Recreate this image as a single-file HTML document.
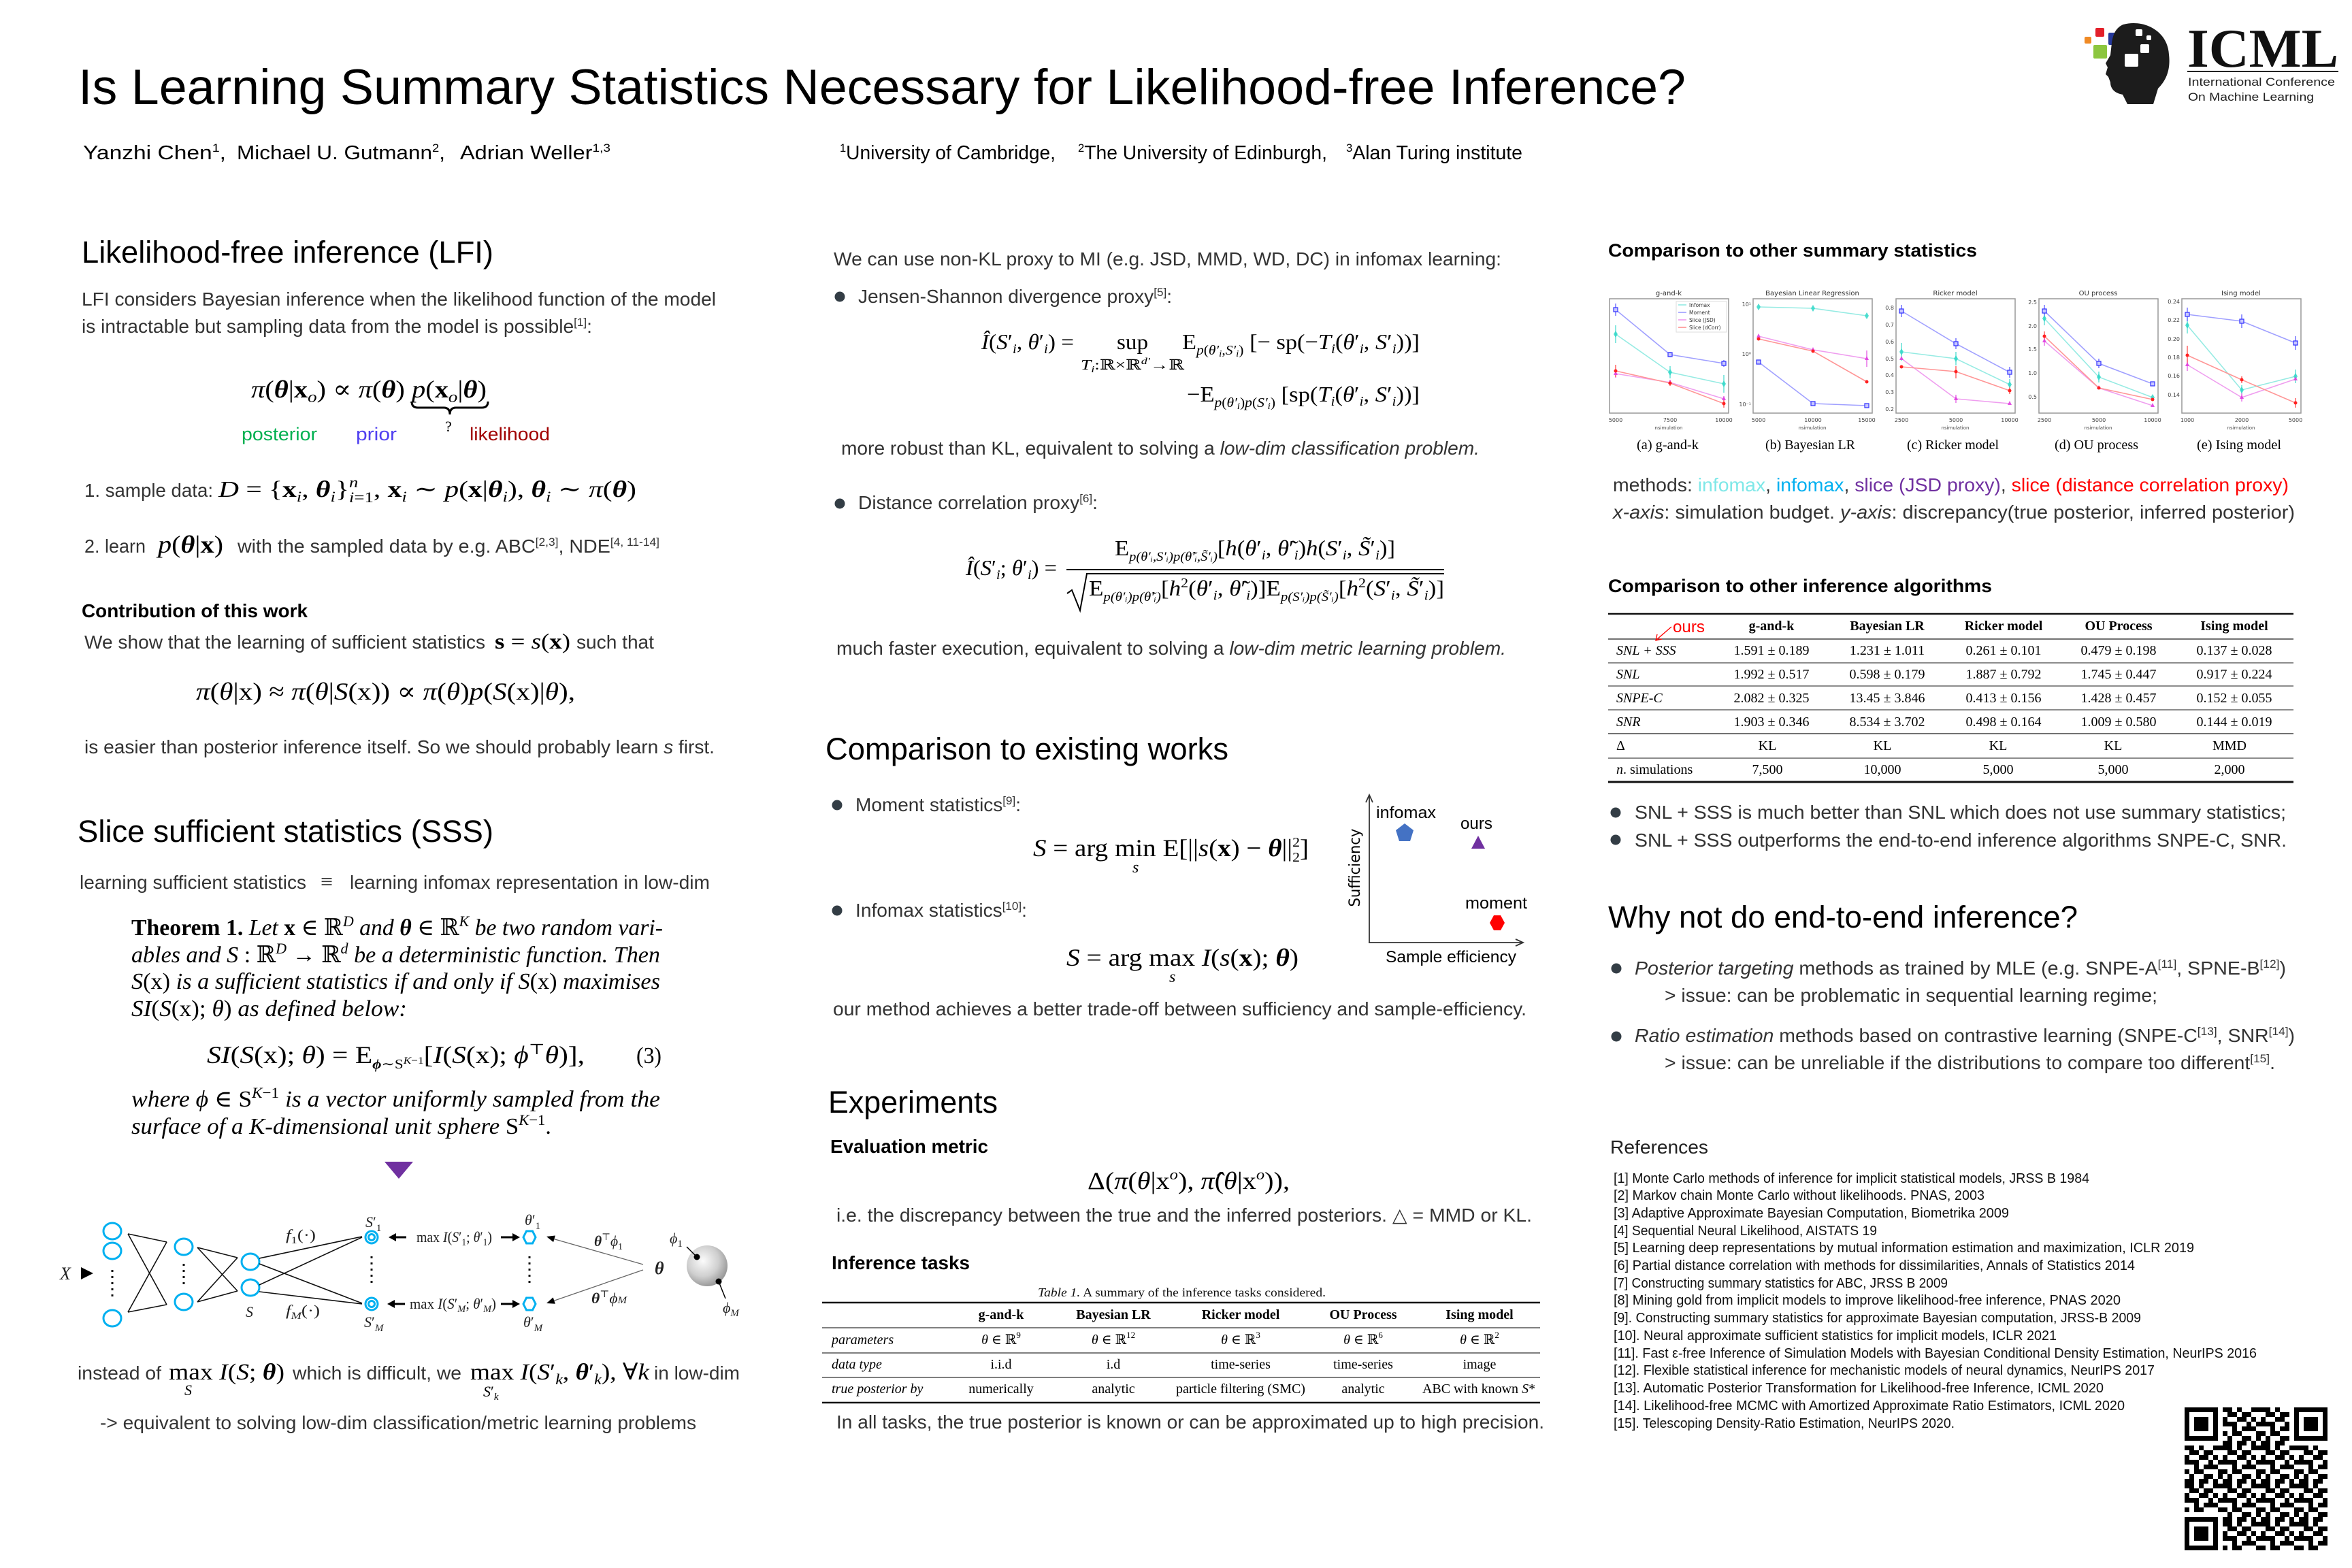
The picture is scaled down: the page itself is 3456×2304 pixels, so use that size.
<!DOCTYPE html>
<html><head><meta charset="utf-8"><title>Is Learning Summary Statistics Necessary for Likelihood-free Inference?</title>
<style>
html,body{margin:0;padding:0;background:#fff;}
svg{display:block;}
.s{font-family:"Liberation Sans",Arial,sans-serif;}
.r{font-family:"Liberation Serif","DejaVu Serif",serif;}
.dj{font-family:"DejaVu Sans",sans-serif;}
</style></head><body>
<svg xmlns="http://www.w3.org/2000/svg" width="3456" height="2304" viewBox="0 0 3456 2304">
<defs>
<radialGradient id="sph" cx="0.4" cy="0.38" r="0.7">
<stop offset="0" stop-color="#fbfbfb"/><stop offset="0.55" stop-color="#cfcfcf"/><stop offset="1" stop-color="#8a8a8a"/>
</radialGradient>
<pattern id="qr" width="56" height="56" patternUnits="userSpaceOnUse" x="3210" y="2068">
<g fill="#000">
<rect x="0" y="0" width="14" height="7"/><rect x="21" y="0" width="7" height="7"/><rect x="42" y="0" width="14" height="7"/>
<rect x="7" y="7" width="14" height="7"/><rect x="28" y="7" width="14" height="7"/>
<rect x="0" y="14" width="7" height="7"/><rect x="21" y="14" width="14" height="7"/><rect x="42" y="14" width="7" height="7"/>
<rect x="0" y="21" width="21" height="7"/><rect x="35" y="21" width="7" height="7"/><rect x="49" y="21" width="7" height="7"/>
<rect x="14" y="28" width="7" height="7"/><rect x="28" y="28" width="21" height="7"/>
<rect x="0" y="35" width="7" height="7"/><rect x="14" y="35" width="14" height="7"/><rect x="49" y="35" width="7" height="7"/>
<rect x="7" y="42" width="7" height="7"/><rect x="28" y="42" width="14" height="7"/><rect x="49" y="42" width="7" height="7"/>
<rect x="0" y="49" width="14" height="7"/><rect x="21" y="49" width="14" height="7"/><rect x="42" y="49" width="7" height="7"/>
</g>
</pattern>
</defs>
<rect width="3456" height="2304" fill="#fff"/>

<!-- ===== HEADER ===== -->
<text class="s" x="115" y="153" font-size="73" fill="#000" textLength="2362" lengthAdjust="spacingAndGlyphs">Is Learning Summary Statistics Necessary for Likelihood-free Inference?</text>
<g class="s" font-size="29" fill="#000">
<text x="122" y="234" textLength="210" lengthAdjust="spacingAndGlyphs">Yanzhi Chen<tspan font-size="17" dy="-11">1</tspan><tspan dy="11">,</tspan></text>
<text x="348" y="234" textLength="306" lengthAdjust="spacingAndGlyphs">Michael U. Gutmann<tspan font-size="17" dy="-11">2</tspan><tspan dy="11">,</tspan></text>
<text x="676" y="234" textLength="221" lengthAdjust="spacingAndGlyphs">Adrian Weller<tspan font-size="17" dy="-11">1,3</tspan></text>
<text x="1234" y="234" textLength="317" lengthAdjust="spacingAndGlyphs"><tspan font-size="17" dy="-11">1</tspan><tspan dy="11">University of Cambridge,</tspan></text>
<text x="1584" y="234" textLength="366" lengthAdjust="spacingAndGlyphs"><tspan font-size="17" dy="-11">2</tspan><tspan dy="11">The University of Edinburgh,</tspan></text>
<text x="1978" y="234" textLength="259" lengthAdjust="spacingAndGlyphs"><tspan font-size="17" dy="-11">3</tspan><tspan dy="11">Alan Turing institute</tspan></text>
</g>

<!-- ICML logo -->
<rect x="3063" y="54" width="10" height="10" rx="2" fill="#f08a24"/>
<rect x="3079" y="41" width="13" height="13" rx="2" fill="#e3202a"/>
<rect x="3098" y="48" width="17" height="18" rx="2" fill="#25389a"/>
<rect x="3076" y="66" width="20" height="20" rx="2" fill="#8cc63f"/>
<path d="M3120,36 C3150,28 3185,45 3187,80 C3190,105 3181,120 3171,130 L3164,153 L3126,153 L3119,139 C3108,137 3101,131 3101,121 L3098,113 L3094,109 L3097,99 L3094,93 L3101,81 L3103,63 C3105,49 3110,40 3120,36 Z" fill="#1c1c1c"/>
<rect x="3138" y="43" width="10" height="10" rx="2" fill="#fff"/>
<rect x="3154" y="52" width="7" height="7" rx="2" fill="#fff"/>
<rect x="3145" y="65" width="13" height="13" rx="2" fill="#fff"/>
<rect x="3122" y="79" width="20" height="19" rx="2" fill="#fff"/>
<text class="r" x="3214" y="98" font-size="80" font-weight="bold" fill="#111" textLength="222" lengthAdjust="spacingAndGlyphs">ICML</text>
<rect x="3214" y="104" width="222" height="2" fill="#222"/>
<text class="s" x="3215" y="126" font-size="17" fill="#222" textLength="216" lengthAdjust="spacingAndGlyphs">International Conference</text>
<text class="s" x="3215" y="148" font-size="17" fill="#222" textLength="185" lengthAdjust="spacingAndGlyphs">On Machine Learning</text>

<!-- ===== LEFT COLUMN ===== -->
<text class="s" x="120" y="386" font-size="45" fill="#000" textLength="605" lengthAdjust="spacingAndGlyphs">Likelihood-free inference (LFI)</text>
<g class="s" font-size="28" fill="#333">
<text x="120" y="449" textLength="932" lengthAdjust="spacingAndGlyphs">LFI considers Bayesian inference when the likelihood function of the model</text>
<text x="120" y="489" textLength="750" lengthAdjust="spacingAndGlyphs">is intractable but sampling data from the model is possible<tspan font-size="17" dy="-10">[1]</tspan><tspan dy="10">:</tspan></text>
</g>
<text class="r" x="369" y="584" font-size="36" fill="#000" textLength="346" lengthAdjust="spacingAndGlyphs"><tspan font-style="italic">π</tspan>(<tspan font-weight="bold" font-style="italic">θ</tspan>|<tspan font-weight="bold">x</tspan><tspan font-size="24" font-style="italic" dy="7">o</tspan><tspan dy="-7">) ∝ </tspan><tspan font-style="italic">π</tspan>(<tspan font-weight="bold" font-style="italic">θ</tspan>) <tspan font-style="italic">p</tspan>(<tspan font-weight="bold">x</tspan><tspan font-size="24" font-style="italic" dy="7">o</tspan><tspan dy="-7">|</tspan><tspan font-weight="bold" font-style="italic">θ</tspan>)</text>
<path d="M605,590 q0,9 9,9 h38 q9,0 9,10 q0,-10 9,-10 h38 q9,0 9,-9" fill="none" stroke="#000" stroke-width="3"/>
<text class="r" x="654" y="634" font-size="22" fill="#000">?</text>
<g class="s" font-size="27">
<text x="355" y="647" fill="#00b050" textLength="111" lengthAdjust="spacingAndGlyphs">posterior</text>
<text x="523" y="647" fill="#5040f0" textLength="60" lengthAdjust="spacingAndGlyphs">prior</text>
<text x="690" y="647" fill="#a00000" textLength="118" lengthAdjust="spacingAndGlyphs">likelihood</text>
</g>
<text class="s" x="124" y="730" font-size="28" fill="#333" textLength="189" lengthAdjust="spacingAndGlyphs">1. sample data:</text>
<text class="r" x="321" y="730" font-size="34" fill="#000" textLength="614" lengthAdjust="spacingAndGlyphs"><tspan font-style="italic">D</tspan> = {<tspan font-weight="bold">x</tspan><tspan font-size="22" font-style="italic" dy="7">i</tspan><tspan dy="-7">, </tspan><tspan font-weight="bold" font-style="italic">θ</tspan><tspan font-size="22" font-style="italic" dy="7">i</tspan><tspan dy="-7">}</tspan><tspan font-size="22" font-style="italic" dy="-14">n</tspan><tspan font-size="22" dx="-11" dy="22"><tspan font-style="italic">i</tspan>=1</tspan><tspan dy="-8">,     </tspan><tspan font-weight="bold">x</tspan><tspan font-size="22" font-style="italic" dy="7">i</tspan><tspan dy="-7"> ∼ </tspan><tspan font-style="italic">p</tspan>(<tspan font-weight="bold">x</tspan>|<tspan font-weight="bold" font-style="italic">θ</tspan><tspan font-size="22" font-style="italic" dy="7">i</tspan><tspan dy="-7">), </tspan><tspan font-weight="bold" font-style="italic">θ</tspan><tspan font-size="22" font-style="italic" dy="7">i</tspan><tspan dy="-7"> ∼ </tspan><tspan font-style="italic">π</tspan>(<tspan font-weight="bold" font-style="italic">θ</tspan>)</text>
<text class="s" x="124" y="812" font-size="28" fill="#333" textLength="90" lengthAdjust="spacingAndGlyphs">2. learn</text>
<text class="r" x="232" y="812" font-size="36" fill="#000" textLength="96" lengthAdjust="spacingAndGlyphs"><tspan font-style="italic">p</tspan>(<tspan font-weight="bold" font-style="italic">θ</tspan>|<tspan font-weight="bold">x</tspan>)</text>
<text class="s" x="349" y="812" font-size="28" fill="#333" textLength="620" lengthAdjust="spacingAndGlyphs">with the sampled data by e.g. ABC<tspan font-size="17" dy="-10">[2,3]</tspan><tspan dy="10">, NDE</tspan><tspan font-size="17" dy="-10">[4, 11-14]</tspan></text>

<text class="s" x="120" y="907" font-size="28" font-weight="bold" fill="#000" textLength="332" lengthAdjust="spacingAndGlyphs">Contribution of this work</text>
<text class="s" x="124" y="953" font-size="28" fill="#333" textLength="589" lengthAdjust="spacingAndGlyphs">We show that the learning of sufficient statistics</text>
<text class="r" x="727" y="953" font-size="32" fill="#000" textLength="111" lengthAdjust="spacingAndGlyphs"><tspan font-weight="bold">s</tspan> = <tspan font-style="italic">s</tspan>(<tspan font-weight="bold">x</tspan>)</text>
<text class="s" x="847" y="953" font-size="28" fill="#333" textLength="114" lengthAdjust="spacingAndGlyphs">such that</text>
<text class="r" x="288" y="1028" font-size="36" fill="#000" textLength="557" lengthAdjust="spacingAndGlyphs"><tspan font-style="italic">π</tspan>(<tspan font-style="italic">θ</tspan>|x) ≈ <tspan font-style="italic">π</tspan>(<tspan font-style="italic">θ</tspan>|<tspan font-style="italic">S</tspan>(x)) ∝ <tspan font-style="italic">π</tspan>(<tspan font-style="italic">θ</tspan>)<tspan font-style="italic">p</tspan>(<tspan font-style="italic">S</tspan>(x)|<tspan font-style="italic">θ</tspan>),</text>
<text class="s" x="124" y="1107" font-size="28" fill="#333" textLength="926" lengthAdjust="spacingAndGlyphs">is easier than posterior inference itself. So we should probably learn <tspan font-style="italic">s</tspan> first.</text>

<text class="s" x="114" y="1237" font-size="45" fill="#000" textLength="611" lengthAdjust="spacingAndGlyphs">Slice sufficient statistics (SSS)</text>
<text class="s" x="117" y="1306" font-size="28" fill="#333" textLength="333" lengthAdjust="spacingAndGlyphs">learning sufficient statistics</text>
<text class="r" x="471" y="1306" font-size="32" fill="#333">≡</text>
<text class="s" x="514" y="1306" font-size="28" fill="#333" textLength="529" lengthAdjust="spacingAndGlyphs">learning infomax representation in low-dim</text>

<g class="r" font-size="34" fill="#000">
<text x="193" y="1374" textLength="781" lengthAdjust="spacingAndGlyphs"><tspan font-weight="bold">Theorem 1.</tspan><tspan font-style="italic"> Let </tspan><tspan font-weight="bold">x</tspan> ∈ ℝ<tspan font-size="22" font-style="italic" dy="-13">D</tspan><tspan dy="13" font-style="italic"> and </tspan><tspan font-style="italic" font-weight="bold">θ</tspan> ∈ ℝ<tspan font-size="22" font-style="italic" dy="-13">K</tspan><tspan dy="13" font-style="italic"> be two random vari-</tspan></text>
<text x="193" y="1414" textLength="777" lengthAdjust="spacingAndGlyphs"><tspan font-style="italic">ables and S</tspan> : ℝ<tspan font-size="22" font-style="italic" dy="-13">D</tspan><tspan dy="13"> → ℝ</tspan><tspan font-size="22" font-style="italic" dy="-13">d</tspan><tspan dy="13" font-style="italic"> be a deterministic function. Then</tspan></text>
<text x="193" y="1453" textLength="777" lengthAdjust="spacingAndGlyphs"><tspan font-style="italic">S</tspan>(x)<tspan font-style="italic"> is a sufficient statistics if and only if S</tspan>(x)<tspan font-style="italic"> maximises</tspan></text>
<text x="193" y="1493" textLength="405" lengthAdjust="spacingAndGlyphs"><tspan font-style="italic">SI</tspan>(<tspan font-style="italic">S</tspan>(x); <tspan font-style="italic">θ</tspan>)<tspan font-style="italic"> as defined below:</tspan></text>
<text x="304" y="1562" font-size="36" textLength="555" lengthAdjust="spacingAndGlyphs"><tspan font-style="italic">SI</tspan>(<tspan font-style="italic">S</tspan>(x); <tspan font-style="italic">θ</tspan>) = E<tspan font-size="20" dy="8"><tspan font-style="italic" font-weight="bold">ϕ</tspan>∼S<tspan font-size="15" dy="-7" font-style="italic">K</tspan><tspan font-size="15">−1</tspan></tspan><tspan dy="-1">[</tspan><tspan font-style="italic">I</tspan>(<tspan font-style="italic">S</tspan>(x); <tspan font-style="italic">ϕ</tspan><tspan font-size="22" dy="-13">⊤</tspan><tspan dy="13" font-style="italic">θ</tspan>)],</text>
<text x="935" y="1562" font-size="34" textLength="37" lengthAdjust="spacingAndGlyphs">(3)</text>
<text x="193" y="1626" textLength="777" lengthAdjust="spacingAndGlyphs"><tspan font-style="italic">where ϕ</tspan> ∈ S<tspan font-size="22" font-style="italic" dy="-13">K</tspan><tspan font-size="22" dy="0">−1</tspan><tspan dy="13" font-style="italic"> is a vector uniformly sampled from the</tspan></text>
<text x="193" y="1666" textLength="617" lengthAdjust="spacingAndGlyphs"><tspan font-style="italic">surface of a K-dimensional unit sphere </tspan>S<tspan font-size="22" font-style="italic" dy="-13">K</tspan><tspan font-size="22">−1</tspan><tspan dy="13">.</tspan></text>
</g>
<polygon points="565,1707 607,1707 586,1732" fill="#7030a0"/>

<!-- network diagram -->
<g fill="none" stroke="#00b0f0" stroke-width="3">
<ellipse cx="165" cy="1809" rx="13" ry="12"/><ellipse cx="165" cy="1838" rx="13" ry="12"/><ellipse cx="165" cy="1937" rx="13" ry="12"/>
<ellipse cx="270" cy="1832" rx="13" ry="12"/><ellipse cx="270" cy="1913" rx="13" ry="12"/>
<ellipse cx="368" cy="1854" rx="13" ry="12"/><ellipse cx="368" cy="1892" rx="13" ry="12"/>
<circle cx="546" cy="1818" r="9"/><circle cx="546" cy="1818" r="4.5"/>
<circle cx="546" cy="1916" r="9"/><circle cx="546" cy="1916" r="4.5"/>
<polygon points="769,1818 773.5,1809 782.5,1809 787,1818 782.5,1827 773.5,1827"/>
<polygon points="769,1916 773.5,1907 782.5,1907 787,1916 782.5,1925 773.5,1925"/>
</g>
<g stroke="#111" stroke-width="1.6" fill="none">
<path d="M188,1813 L245,1825 M188,1813 L245,1917 M188,1928 L245,1825 M188,1928 L245,1917"/>
<path d="M290,1833 L349,1848 M290,1833 L349,1897 M290,1913 L349,1848 M290,1913 L349,1897"/>
<path d="M381,1849 L532,1817 M381,1857 L532,1915 M381,1888 L532,1818 M381,1898 L532,1916"/>
</g>
<g stroke="#111" stroke-width="3" stroke-dasharray="3,6">
<line x1="165" y1="1866" x2="165" y2="1906"/>
<line x1="270" y1="1857" x2="270" y2="1887"/>
<line x1="546" y1="1846" x2="546" y2="1888"/>
<line x1="778" y1="1846" x2="778" y2="1888"/>
</g>
<polygon points="119,1862 137,1871 119,1880" fill="#000"/>
<g stroke="#000" stroke-width="3">
<line x1="597" y1="1818" x2="580" y2="1818"/><line x1="736" y1="1818" x2="754" y2="1818"/>
<line x1="595" y1="1916" x2="578" y2="1916"/><line x1="736" y1="1916" x2="754" y2="1916"/>
</g>
<g fill="#000">
<polygon points="571,1818 582,1812 582,1824"/><polygon points="764,1818 753,1812 753,1824"/>
<polygon points="569,1916 580,1910 580,1922"/><polygon points="764,1916 753,1910 753,1922"/>
</g>
<g stroke="#666" stroke-width="1.3"><line x1="945" y1="1858" x2="812" y2="1820"/><line x1="945" y1="1866" x2="812" y2="1912"/></g>
<polygon points="803,1817 813.1,1825.1 815.9,1815.5" fill="#000"/>
<polygon points="803,1915 815.9,1915.8 812.7,1906.4" fill="#000"/>
<circle cx="1039" cy="1860" r="30" fill="url(#sph)"/>
<circle cx="1024" cy="1847" r="4.5" fill="#000"/><circle cx="1056" cy="1883" r="4.5" fill="#000"/>
<g stroke="#000" stroke-width="1.5"><line x1="1009" y1="1832" x2="1024" y2="1847"/><line x1="1056" y1="1883" x2="1066" y2="1908"/></g>
<g class="r" font-size="22" fill="#222">
<text x="88" y="1880" font-size="26" font-style="italic">X</text>
<text x="361" y="1935" font-style="italic">S</text>
<text x="420" y="1822" textLength="44" lengthAdjust="spacingAndGlyphs"><tspan font-style="italic">f</tspan><tspan font-size="15" dy="5">1</tspan><tspan dy="-5">(·)</tspan></text>
<text x="420" y="1933" textLength="50" lengthAdjust="spacingAndGlyphs"><tspan font-style="italic">f</tspan><tspan font-size="15" dy="5" font-style="italic">M</tspan><tspan dy="-5">(·)</tspan></text>
<text x="537" y="1803"><tspan font-style="italic">S</tspan>′<tspan font-size="15" dy="6">1</tspan></text>
<text x="535" y="1950"><tspan font-style="italic">S</tspan>′<tspan font-size="15" dy="6" font-style="italic">M</tspan></text>
<text x="771" y="1800"><tspan font-style="italic">θ</tspan>′<tspan font-size="15" dy="6">1</tspan></text>
<text x="769" y="1950"><tspan font-style="italic">θ</tspan>′<tspan font-size="15" dy="6" font-style="italic">M</tspan></text>
<text x="612" y="1825" textLength="111" lengthAdjust="spacingAndGlyphs">max <tspan font-style="italic">I</tspan>(<tspan font-style="italic">S</tspan>′<tspan font-size="15" dy="5">1</tspan><tspan dy="-5">; </tspan><tspan font-style="italic">θ</tspan>′<tspan font-size="15" dy="5">1</tspan><tspan dy="-5">)</tspan></text>
<text x="602" y="1923" textLength="127" lengthAdjust="spacingAndGlyphs">max <tspan font-style="italic">I</tspan>(<tspan font-style="italic">S</tspan>′<tspan font-size="15" dy="5" font-style="italic">M</tspan><tspan dy="-5">; </tspan><tspan font-style="italic">θ</tspan>′<tspan font-size="15" dy="5" font-style="italic">M</tspan><tspan dy="-5">)</tspan></text>
<text x="873" y="1831" textLength="42" lengthAdjust="spacingAndGlyphs"><tspan font-weight="bold" font-style="italic">θ</tspan><tspan font-size="14" dy="-9">⊤</tspan><tspan dy="9" font-style="italic">ϕ</tspan><tspan font-size="14" dy="5">1</tspan></text>
<text x="869" y="1915" textLength="52" lengthAdjust="spacingAndGlyphs"><tspan font-weight="bold" font-style="italic">θ</tspan><tspan font-size="14" dy="-9">⊤</tspan><tspan dy="9" font-style="italic">ϕ</tspan><tspan font-size="15" font-style="italic">M</tspan></text>
<text x="962" y="1872" font-size="26" font-weight="bold" font-style="italic">θ</text>
<text x="984" y="1827" font-style="italic">ϕ<tspan font-size="15" dy="5" font-style="normal">1</tspan></text>
<text x="1062" y="1929" font-style="italic">ϕ<tspan font-size="15" dy="5">M</tspan></text>
</g>

<text class="s" x="114" y="2027" font-size="28" fill="#333" textLength="123" lengthAdjust="spacingAndGlyphs">instead of</text>
<text class="r" x="248" y="2027" font-size="34" fill="#000" textLength="170" lengthAdjust="spacingAndGlyphs">max <tspan font-style="italic">I</tspan>(<tspan font-style="italic">S</tspan>; <tspan font-weight="bold" font-style="italic">θ</tspan>)</text>
<text class="r" x="271" y="2050" font-size="22" fill="#000" font-style="italic">S</text>
<text class="s" x="430" y="2027" font-size="28" fill="#333" textLength="248" lengthAdjust="spacingAndGlyphs">which is difficult, we</text>
<text class="r" x="691" y="2027" font-size="34" fill="#000" textLength="263" lengthAdjust="spacingAndGlyphs">max <tspan font-style="italic">I</tspan>(<tspan font-style="italic">S</tspan>′<tspan font-size="22" font-style="italic" dy="7">k</tspan><tspan dy="-7">, </tspan><tspan font-weight="bold" font-style="italic">θ</tspan>′<tspan font-size="22" font-style="italic" dy="7">k</tspan><tspan dy="-7">), ∀</tspan><tspan font-style="italic">k</tspan></text>
<text class="r" x="710" y="2052" font-size="22" fill="#000"><tspan font-style="italic">S</tspan>′<tspan font-size="15" font-style="italic" dy="5">k</tspan></text>
<text class="s" x="961" y="2027" font-size="28" fill="#333" textLength="126" lengthAdjust="spacingAndGlyphs">in low-dim</text>
<text class="s" x="147" y="2100" font-size="28" fill="#333" textLength="876" lengthAdjust="spacingAndGlyphs">-&gt; equivalent to solving low-dim classification/metric learning problems</text>

<!-- ===== MIDDLE COLUMN ===== -->
<g class="s" font-size="28" fill="#333">
<text x="1225" y="390" textLength="981" lengthAdjust="spacingAndGlyphs">We can use non-KL proxy to MI (e.g. JSD, MMD, WD, DC) in infomax learning:</text>
<text x="1261" y="445" textLength="461" lengthAdjust="spacingAndGlyphs">Jensen-Shannon divergence proxy<tspan font-size="17" dy="-10">[5]</tspan><tspan dy="10">:</tspan></text>
<text x="1236" y="668" textLength="938" lengthAdjust="spacingAndGlyphs">more robust than KL, equivalent to solving a <tspan font-style="italic">low-dim classification problem.</tspan></text>
<text x="1261" y="748" textLength="352" lengthAdjust="spacingAndGlyphs">Distance correlation proxy<tspan font-size="17" dy="-10">[6]</tspan><tspan dy="10">:</tspan></text>
<text x="1229" y="962" textLength="984" lengthAdjust="spacingAndGlyphs">much faster execution, equivalent to solving a <tspan font-style="italic">low-dim metric learning problem.</tspan></text>
</g>
<circle cx="1234" cy="436" r="7.5" fill="#333d45"/>
<circle cx="1234" cy="740" r="7.5" fill="#333d45"/>
<g class="r" font-size="32" fill="#000">
<text x="1442" y="513" textLength="136" lengthAdjust="spacingAndGlyphs"><tspan font-style="italic">Î</tspan>(<tspan font-style="italic">S</tspan>′<tspan font-size="20" font-style="italic" dy="6">i</tspan><tspan dy="-6">, </tspan><tspan font-style="italic">θ</tspan>′<tspan font-size="20" font-style="italic" dy="6">i</tspan><tspan dy="-6">) =</tspan></text>
<text x="1641" y="513" textLength="46" lengthAdjust="spacingAndGlyphs">sup</text>
<text x="1588" y="543" font-size="21" textLength="152" lengthAdjust="spacingAndGlyphs"><tspan font-style="italic">T</tspan><tspan font-size="14" font-style="italic" dy="4">i</tspan><tspan dy="-4">:ℝ×ℝ</tspan><tspan font-size="14" font-style="italic" dy="-8">d′</tspan><tspan dy="8">→ℝ</tspan></text>
<text x="1737" y="513" textLength="349" lengthAdjust="spacingAndGlyphs">E<tspan font-size="20" font-style="italic" dy="8">p</tspan><tspan font-size="20" dy="0">(</tspan><tspan font-size="20" font-style="italic">θ′</tspan><tspan font-size="14" font-style="italic" dy="3">i</tspan><tspan font-size="20" dy="-3">,</tspan><tspan font-size="20" font-style="italic">S′</tspan><tspan font-size="14" font-style="italic" dy="3">i</tspan><tspan font-size="20" dy="-3">)</tspan><tspan dy="-8"> [− sp(−</tspan><tspan font-style="italic">T</tspan><tspan font-size="20" font-style="italic" dy="6">i</tspan><tspan dy="-6">(</tspan><tspan font-style="italic">θ</tspan>′<tspan font-size="20" font-style="italic" dy="6">i</tspan><tspan dy="-6">, </tspan><tspan font-style="italic">S</tspan>′<tspan font-size="20" font-style="italic" dy="6">i</tspan><tspan dy="-6">))]</tspan></text>
<text x="1744" y="590" textLength="342" lengthAdjust="spacingAndGlyphs">−E<tspan font-size="20" font-style="italic" dy="8">p</tspan><tspan font-size="20">(</tspan><tspan font-size="20" font-style="italic">θ′</tspan><tspan font-size="14" font-style="italic" dy="3">i</tspan><tspan font-size="20" dy="-3">)</tspan><tspan font-size="20" font-style="italic">p</tspan><tspan font-size="20">(</tspan><tspan font-size="20" font-style="italic">S′</tspan><tspan font-size="14" font-style="italic" dy="3">i</tspan><tspan font-size="20" dy="-3">)</tspan><tspan dy="-8"> [sp(</tspan><tspan font-style="italic">T</tspan><tspan font-size="20" font-style="italic" dy="6">i</tspan><tspan dy="-6">(</tspan><tspan font-style="italic">θ</tspan>′<tspan font-size="20" font-style="italic" dy="6">i</tspan><tspan dy="-6">, </tspan><tspan font-style="italic">S</tspan>′<tspan font-size="20" font-style="italic" dy="6">i</tspan><tspan dy="-6">))]</tspan></text>
<text x="1419" y="845" textLength="134" lengthAdjust="spacingAndGlyphs"><tspan font-style="italic">Î</tspan>(<tspan font-style="italic">S</tspan>′<tspan font-size="20" font-style="italic" dy="6">i</tspan><tspan dy="-6">; </tspan><tspan font-style="italic">θ</tspan>′<tspan font-size="20" font-style="italic" dy="6">i</tspan><tspan dy="-6">) =</tspan></text>
<text x="1638" y="816" textLength="412" lengthAdjust="spacingAndGlyphs">E<tspan font-size="19" font-style="italic" dy="8">p(θ′ᵢ,S′ᵢ)p(θ̃′ᵢ,S̃′ᵢ)</tspan><tspan dy="-8">[</tspan><tspan font-style="italic">h</tspan>(<tspan font-style="italic">θ</tspan>′<tspan font-size="20" font-style="italic" dy="6">i</tspan><tspan dy="-6">, </tspan><tspan font-style="italic">θ̃</tspan>′<tspan font-size="20" font-style="italic" dy="6">i</tspan><tspan dy="-6">)</tspan><tspan font-style="italic">h</tspan>(<tspan font-style="italic">S</tspan>′<tspan font-size="20" font-style="italic" dy="6">i</tspan><tspan dy="-6">, </tspan><tspan font-style="italic">S̃</tspan>′<tspan font-size="20" font-style="italic" dy="6">i</tspan><tspan dy="-6">)]</tspan></text>
<text x="1600" y="875" textLength="522" lengthAdjust="spacingAndGlyphs">E<tspan font-size="19" font-style="italic" dy="8">p(θ′ᵢ)p(θ̃′ᵢ)</tspan><tspan dy="-8">[</tspan><tspan font-style="italic">h</tspan><tspan font-size="20" dy="-12">2</tspan><tspan dy="12">(</tspan><tspan font-style="italic">θ</tspan>′<tspan font-size="20" font-style="italic" dy="6">i</tspan><tspan dy="-6">, </tspan><tspan font-style="italic">θ̃</tspan>′<tspan font-size="20" font-style="italic" dy="6">i</tspan><tspan dy="-6">)]E</tspan><tspan font-size="19" font-style="italic" dy="8">p(S′ᵢ)p(S̃′ᵢ)</tspan><tspan dy="-8">[</tspan><tspan font-style="italic">h</tspan><tspan font-size="20" dy="-12">2</tspan><tspan dy="12">(</tspan><tspan font-style="italic">S</tspan>′<tspan font-size="20" font-style="italic" dy="6">i</tspan><tspan dy="-6">, </tspan><tspan font-style="italic">S̃</tspan>′<tspan font-size="20" font-style="italic" dy="6">i</tspan><tspan dy="-6">)]</tspan></text>
</g>
<line x1="1567" y1="837" x2="2122" y2="837" stroke="#000" stroke-width="2"/>
<path d="M1568,872 L1575,867 L1587,897 L1597,843 L2122,843" fill="none" stroke="#000" stroke-width="2"/>

<text class="s" x="1213" y="1116" font-size="45" fill="#000" textLength="592" lengthAdjust="spacingAndGlyphs">Comparison to existing works</text>
<circle cx="1230" cy="1183" r="7.5" fill="#333d45"/>
<circle cx="1230" cy="1338" r="7.5" fill="#333d45"/>
<g class="s" font-size="28" fill="#333">
<text x="1257" y="1192" textLength="243" lengthAdjust="spacingAndGlyphs">Moment statistics<tspan font-size="17" dy="-10">[9]</tspan><tspan dy="10">:</tspan></text>
<text x="1257" y="1347" textLength="252" lengthAdjust="spacingAndGlyphs">Infomax statistics<tspan font-size="17" dy="-10">[10]</tspan><tspan dy="10">:</tspan></text>
<text x="1224" y="1492" textLength="1019" lengthAdjust="spacingAndGlyphs">our method achieves a better trade-off between sufficiency and sample-efficiency.</text>
</g>
<g class="r" font-size="36" fill="#000">
<text x="1518" y="1258" textLength="405" lengthAdjust="spacingAndGlyphs"><tspan font-style="italic">S</tspan> = arg min E[||<tspan font-style="italic">s</tspan>(<tspan font-weight="bold">x</tspan>) − <tspan font-weight="bold" font-style="italic">θ</tspan>||<tspan font-size="20" dy="-14">2</tspan><tspan font-size="20" dx="-10" dy="22">2</tspan><tspan dy="-8">]</tspan></text>
<text x="1664" y="1282" font-size="24" font-style="italic">s</text>
<text x="1567" y="1419" textLength="341" lengthAdjust="spacingAndGlyphs"><tspan font-style="italic">S</tspan> = arg max <tspan font-style="italic">I</tspan>(<tspan font-style="italic">s</tspan>(<tspan font-weight="bold">x</tspan>); <tspan font-weight="bold" font-style="italic">θ</tspan>)</text>
<text x="1718" y="1443" font-size="24" font-style="italic">s</text>
</g>
<!-- tradeoff plot -->
<g stroke="#333" stroke-width="1.8" fill="none">
<line x1="2012" y1="1386" x2="2012" y2="1168"/><polyline points="2007,1179 2012,1168 2017,1179"/>
<line x1="2011" y1="1385" x2="2238" y2="1385"/><polyline points="2227,1380 2238,1385 2227,1390"/>
</g>
<text class="dj" transform="translate(1998,1275) rotate(-90)" font-size="22" fill="#000" text-anchor="middle" textLength="115" lengthAdjust="spacingAndGlyphs">Sufficiency</text>
<g class="s" font-size="24" fill="#000">
<text x="2022" y="1202" textLength="88" lengthAdjust="spacingAndGlyphs">infomax</text>
<text x="2146" y="1218" textLength="47" lengthAdjust="spacingAndGlyphs">ours</text>
<text x="2153" y="1335" textLength="91" lengthAdjust="spacingAndGlyphs">moment</text>
<text x="2036" y="1414" textLength="192" lengthAdjust="spacingAndGlyphs">Sample efficiency</text>
</g>
<polygon points="2064,1210 2077,1220 2072,1236 2056,1236 2051,1220" fill="#4472c4"/>
<polygon points="2172,1228 2182,1247 2162,1247" fill="#7030a0"/>
<polygon points="2195,1345 2205,1345 2211,1356 2205,1367 2195,1367 2189,1356" fill="#ff0000"/>

<text class="s" x="1217" y="1635" font-size="45" fill="#000" textLength="249" lengthAdjust="spacingAndGlyphs">Experiments</text>
<text class="s" x="1220" y="1694" font-size="28" font-weight="bold" fill="#000" textLength="232" lengthAdjust="spacingAndGlyphs">Evaluation metric</text>
<text class="r" x="1598" y="1747" font-size="36" fill="#000" textLength="297" lengthAdjust="spacingAndGlyphs">Δ(<tspan font-style="italic">π</tspan>(<tspan font-style="italic">θ</tspan>|x<tspan font-size="22" font-style="italic" dy="-14">o</tspan><tspan dy="14">), </tspan><tspan font-style="italic">π̂</tspan>(<tspan font-style="italic">θ</tspan>|x<tspan font-size="22" font-style="italic" dy="-14">o</tspan><tspan dy="14">)),</tspan></text>
<text class="s" x="1229" y="1795" font-size="28" fill="#333" textLength="1022" lengthAdjust="spacingAndGlyphs">i.e. the discrepancy between the true and the inferred posteriors. △ = MMD or KL.</text>
<text class="s" x="1222" y="1865" font-size="28" font-weight="bold" fill="#000" textLength="203" lengthAdjust="spacingAndGlyphs">Inference tasks</text>
<text class="r" x="1525" y="1905" font-size="18" fill="#111" textLength="423" lengthAdjust="spacingAndGlyphs"><tspan font-style="italic">Table 1.</tspan> A summary of the inference tasks considered.</text>
<g stroke="#111">
<line x1="1208" y1="1914" x2="2263" y2="1914" stroke-width="2.5"/>
<line x1="1208" y1="1951" x2="2263" y2="1951" stroke-width="1.5" stroke="#555"/>
<line x1="1208" y1="1988" x2="2263" y2="1988" stroke-width="1.5" stroke="#555"/>
<line x1="1208" y1="2024" x2="2263" y2="2024" stroke-width="1.5" stroke="#555"/>
<line x1="1208" y1="2061" x2="2263" y2="2061" stroke-width="2.5"/>
</g>
<g class="r" font-size="20" fill="#000" text-anchor="middle">
<g font-weight="bold">
<text x="1471" y="1938">g-and-k</text><text x="1636" y="1938">Bayesian LR</text><text x="1823" y="1938">Ricker model</text><text x="2003" y="1938">OU Process</text><text x="2174" y="1938">Ising model</text>
</g>
<text x="1471" y="1975"><tspan font-style="italic">θ</tspan> ∈ ℝ<tspan font-size="13" dy="-9">9</tspan></text>
<text x="1636" y="1975"><tspan font-style="italic">θ</tspan> ∈ ℝ<tspan font-size="13" dy="-9">12</tspan></text>
<text x="1823" y="1975"><tspan font-style="italic">θ</tspan> ∈ ℝ<tspan font-size="13" dy="-9">3</tspan></text>
<text x="2003" y="1975"><tspan font-style="italic">θ</tspan> ∈ ℝ<tspan font-size="13" dy="-9">6</tspan></text>
<text x="2174" y="1975"><tspan font-style="italic">θ</tspan> ∈ ℝ<tspan font-size="13" dy="-9">2</tspan></text>
<text x="1471" y="2011">i.i.d</text><text x="1636" y="2011">i.d</text><text x="1823" y="2011">time-series</text><text x="2003" y="2011">time-series</text><text x="2174" y="2011">image</text>
<text x="1471" y="2047">numerically</text><text x="1636" y="2047">analytic</text><text x="1823" y="2047">particle filtering (SMC)</text><text x="2003" y="2047">analytic</text><text x="2173" y="2047">ABC with known <tspan font-style="italic">S</tspan>*</text>
</g>
<g class="r" font-size="20" fill="#000" font-style="italic">
<text x="1222" y="1975">parameters</text><text x="1222" y="2011">data type</text><text x="1222" y="2047">true posterior by</text>
</g>
<text class="s" x="1229" y="2099" font-size="28" fill="#333" textLength="1040" lengthAdjust="spacingAndGlyphs">In all tasks, the true posterior is known or can be approximated up to high precision.</text>

<!-- ===== RIGHT COLUMN ===== -->
<text class="s" x="2363" y="377" font-size="27" font-weight="bold" fill="#000" textLength="542" lengthAdjust="spacingAndGlyphs">Comparison to other summary statistics</text>

<!-- plots -->
<g fill="none" stroke="#999" stroke-width="1.5">
<rect x="2365" y="439" width="175" height="168"/><rect x="2576" y="439" width="175" height="168"/><rect x="2786" y="439" width="175" height="168"/><rect x="2996" y="439" width="175" height="168"/><rect x="3206" y="439" width="175" height="168"/>
</g>
<g class="dj" font-size="10" fill="#333" text-anchor="middle">
<text x="2452" y="434">g-and-k</text><text x="2663" y="434">Bayesian Linear Regression</text><text x="2873" y="434">Ricker model</text><text x="3083" y="434">OU process</text><text x="3293" y="434">Ising model</text>
</g>
<g class="dj" font-size="8" fill="#444" text-anchor="middle">
<text x="2374" y="620">5000</text><text x="2454" y="620">7500</text><text x="2533" y="620">10000</text>
<text x="2584" y="620">5000</text><text x="2664" y="620">10000</text><text x="2743" y="620">15000</text>
<text x="2794" y="620">2500</text><text x="2874" y="620">5000</text><text x="2953" y="620">10000</text>
<text x="3004" y="620">2500</text><text x="3084" y="620">5000</text><text x="3163" y="620">10000</text>
<text x="3214" y="620">1000</text><text x="3294" y="620">2000</text><text x="3373" y="620">5000</text>
<text x="2452" y="631" font-size="7">nsimulation</text><text x="2663" y="631" font-size="7">nsimulation</text><text x="2873" y="631" font-size="7">nsimulation</text><text x="3083" y="631" font-size="7">nsimulation</text><text x="3293" y="631" font-size="7">nsimulation</text>
</g>
<g class="dj" font-size="8" fill="#444" text-anchor="end">
<text x="2573" y="450">10¹</text><text x="2573" y="523">10⁰</text><text x="2573" y="597">10⁻¹</text>
<text x="2783" y="455">0.8</text><text x="2783" y="480">0.7</text><text x="2783" y="505">0.6</text><text x="2783" y="530">0.5</text><text x="2783" y="554">0.4</text><text x="2783" y="579">0.3</text><text x="2783" y="604">0.2</text>
<text x="2993" y="447">2.5</text><text x="2993" y="482">2.0</text><text x="2993" y="516">1.5</text><text x="2993" y="551">1.0</text><text x="2993" y="586">0.5</text>
<text x="3203" y="446">0.24</text><text x="3203" y="473">0.22</text><text x="3203" y="501">0.20</text><text x="3203" y="528">0.18</text><text x="3203" y="555">0.16</text><text x="3203" y="583">0.14</text>
</g>
<!-- series lines -->
<g fill="none" stroke-width="1.6" opacity="0.5">
<g stroke="#30d8c8">
<polyline points="2374,491 2454,547 2533,564"/><polyline points="2584,451 2664,453 2743,464"/><polyline points="2794,517 2874,527 2953,565"/><polyline points="3004,468 3084,554 3163,584"/><polyline points="3214,478 3294,573 3373,553"/>
</g>
<g stroke="#4444ff">
<polyline points="2374,455 2454,521 2533,534"/><polyline points="2584,532 2664,593 2743,596"/><polyline points="2794,457 2874,505 2953,547"/><polyline points="3004,457 3084,534 3163,564"/><polyline points="3214,462 3294,472 3373,504"/>
</g>
<g stroke="#e040e0">
<polyline points="2374,549 2454,562 2533,586"/><polyline points="2584,494 2664,514 2743,527"/><polyline points="2794,527 2874,586 2953,593"/><polyline points="3004,501 3084,570 3163,596"/><polyline points="3214,536 3294,584 3373,557"/>
</g>
<g stroke="#ff3030">
<polyline points="2374,545 2454,563 2533,593"/><polyline points="2584,498 2664,516 2743,561"/><polyline points="2794,539 2874,546 2953,574"/><polyline points="3004,494 3084,570 3163,587"/><polyline points="3214,522 3294,558 3373,592"/>
</g>
</g>
<!-- error bars -->
<g stroke-width="1.4" opacity="0.8">
<g stroke="#30d8c8"><path d="M2374,478V504 M2454,538V556 M2533,551V577 M2794,504V530 M2874,517V537 M2953,557V573 M3004,458V478 M3084,546V562 M3214,466V490 M3294,566V580 M3373,543V563"/></g>
<g stroke="#4444ff"><path d="M2374,446V464 M2454,517V525 M2533,529V539 M2794,448V466 M2874,497V513 M2953,539V555 M3004,448V466 M3084,527V541 M3214,452V472 M3294,462V482 M3373,494V514"/></g>
<g stroke="#e040e0"><path d="M2374,543V555 M2454,558V566 M2533,582V590 M2743,515V539 M2874,580V592 M3004,494V508 M3214,527V545 M3294,578V590"/></g>
<g stroke="#ff3030"><path d="M2374,536V554 M2454,559V567 M2533,587V599 M2874,538V556 M2953,569V579 M3004,487V501 M3214,508V536 M3294,553V563 M3373,585V599"/></g>
</g>
<!-- markers -->
<g fill="#30d8c8" opacity="0.85">
<path d="M2374,486l3,5l-3,5l-3,-5z M2454,542l3,5l-3,5l-3,-5z M2533,559l3,5l-3,5l-3,-5z M2584,446l3,5l-3,5l-3,-5z M2664,448l3,5l-3,5l-3,-5z M2743,459l3,5l-3,5l-3,-5z M2794,512l3,5l-3,5l-3,-5z M2874,522l3,5l-3,5l-3,-5z M2953,560l3,5l-3,5l-3,-5z M3004,463l3,5l-3,5l-3,-5z M3084,549l3,5l-3,5l-3,-5z M3163,579l3,5l-3,5l-3,-5z M3214,473l3,5l-3,5l-3,-5z M3294,568l3,5l-3,5l-3,-5z M3373,548l3,5l-3,5l-3,-5z"/>
</g>
<g fill="#c8c8ff" stroke="#3333ff" stroke-width="1.2">
<path d="M2371,452h6v6h-6z M2451,518h6v6h-6z M2530,531h6v6h-6z M2581,529h6v6h-6z M2661,590h6v6h-6z M2740,593h6v6h-6z M2791,454h6v6h-6z M2871,502h6v6h-6z M2950,544h6v6h-6z M3001,454h6v6h-6z M3081,531h6v6h-6z M3160,561h6v6h-6z M3211,459h6v6h-6z M3291,469h6v6h-6z M3370,501h6v6h-6z"/>
</g>
<g fill="#e040e0" opacity="0.9">
<path d="M2374,545l3,6h-6z M2454,558l3,6h-6z M2533,582l3,6h-6z M2584,490l3,6h-6z M2664,510l3,6h-6z M2743,523l3,6h-6z M2794,523l3,6h-6z M2874,582l3,6h-6z M2953,589l3,6h-6z M3004,497l3,6h-6z M3084,566l3,6h-6z M3163,592l3,6h-6z M3214,532l3,6h-6z M3294,580l3,6h-6z M3373,553l3,6h-6z"/>
</g>
<g fill="#ff2020">
<circle cx="2374" cy="545" r="2.5"/><circle cx="2454" cy="563" r="2.5"/><circle cx="2533" cy="593" r="2.5"/><circle cx="2584" cy="498" r="2.5"/><circle cx="2664" cy="516" r="2.5"/><circle cx="2743" cy="561" r="2.5"/><circle cx="2794" cy="539" r="2.5"/><circle cx="2874" cy="546" r="2.5"/><circle cx="2953" cy="574" r="2.5"/><circle cx="3004" cy="494" r="2.5"/><circle cx="3084" cy="570" r="2.5"/><circle cx="3163" cy="587" r="2.5"/><circle cx="3214" cy="522" r="2.5"/><circle cx="3294" cy="558" r="2.5"/><circle cx="3373" cy="592" r="2.5"/>
</g>
<!-- legend -->
<rect x="2463" y="443" width="74" height="45" fill="#fff" stroke="#ddd" stroke-width="1"/>
<g stroke-width="1.2" opacity="0.7"><line x1="2466" y1="448" x2="2478" y2="448" stroke="#30d8c8"/><line x1="2466" y1="459" x2="2478" y2="459" stroke="#4444ff"/><line x1="2466" y1="470" x2="2478" y2="470" stroke="#e040e0"/><line x1="2466" y1="481" x2="2478" y2="481" stroke="#ff3030"/></g>
<g class="dj" font-size="7.5" fill="#333">
<text x="2482" y="451">Infomax</text><text x="2482" y="462">Moment</text><text x="2482" y="473">Slice (JSD)</text><text x="2482" y="484">Slice (dCorr)</text>
</g>
<g class="r" font-size="20" fill="#000">
<text x="2405" y="660" textLength="91" lengthAdjust="spacingAndGlyphs">(a) g-and-k</text>
<text x="2594" y="660" textLength="132" lengthAdjust="spacingAndGlyphs">(b) Bayesian LR</text>
<text x="2802" y="660" textLength="135" lengthAdjust="spacingAndGlyphs">(c) Ricker model</text>
<text x="3019" y="660" textLength="123" lengthAdjust="spacingAndGlyphs">(d) OU process</text>
<text x="3228" y="660" textLength="124" lengthAdjust="spacingAndGlyphs">(e) Ising model</text>
</g>
<g class="s" font-size="28" fill="#333">
<text x="2370" y="722" textLength="993" lengthAdjust="spacingAndGlyphs">methods: <tspan fill="#7fe8e8">infomax</tspan>, <tspan fill="#00b0f0">infomax</tspan>, <tspan fill="#7030a0">slice (JSD proxy)</tspan>, <tspan fill="#ff0000">slice (distance correlation proxy)</tspan></text>
<text x="2370" y="762" textLength="1002" lengthAdjust="spacingAndGlyphs"><tspan font-style="italic">x-axis</tspan>: simulation budget.   <tspan font-style="italic">y-axis</tspan>: discrepancy(true posterior, inferred posterior)</text>
</g>

<text class="s" x="2363" y="870" font-size="27" font-weight="bold" fill="#000" textLength="564" lengthAdjust="spacingAndGlyphs">Comparison to other inference algorithms</text>
<g stroke="#111">
<line x1="2363" y1="902" x2="3370" y2="902" stroke-width="2.5"/>
<line x1="2363" y1="939" x2="3370" y2="939" stroke-width="1.5" stroke="#444"/>
<line x1="2363" y1="974" x2="3370" y2="974" stroke-width="1.5" stroke="#666"/>
<line x1="2363" y1="1008" x2="3370" y2="1008" stroke-width="1.5" stroke="#666"/>
<line x1="2363" y1="1043" x2="3370" y2="1043" stroke-width="1.5" stroke="#666"/>
<line x1="2363" y1="1078" x2="3370" y2="1078" stroke-width="1.5" stroke="#444"/>
<line x1="2363" y1="1114" x2="3370" y2="1114" stroke-width="1.5" stroke="#666"/>
<line x1="2363" y1="1149" x2="3370" y2="1149" stroke-width="3"/>
</g>
<text class="s" x="2458" y="929" font-size="24" fill="#ff0000" textLength="47" lengthAdjust="spacingAndGlyphs">ours</text>
<line x1="2456" y1="921" x2="2434" y2="940" stroke="#ff0000" stroke-width="1.3"/>
<polyline points="2435,932 2433,941 2442,939" fill="none" stroke="#ff0000" stroke-width="1.3"/>
<g class="r" font-size="20" fill="#000" text-anchor="middle">
<g font-weight="bold">
<text x="2603" y="926">g-and-k</text><text x="2773" y="926">Bayesian LR</text><text x="2944" y="926">Ricker model</text><text x="3113" y="926">OU Process</text><text x="3283" y="926">Ising model</text>
</g>
<text x="2603" y="962">1.591 ± 0.189</text><text x="2773" y="962">1.231 ± 1.011</text><text x="2944" y="962">0.261 ± 0.101</text><text x="3113" y="962">0.479 ± 0.198</text><text x="3283" y="962">0.137 ± 0.028</text>
<text x="2603" y="997">1.992 ± 0.517</text><text x="2773" y="997">0.598 ± 0.179</text><text x="2944" y="997">1.887 ± 0.792</text><text x="3113" y="997">1.745 ± 0.447</text><text x="3283" y="997">0.917 ± 0.224</text>
<text x="2603" y="1032">2.082 ± 0.325</text><text x="2773" y="1032">13.45 ± 3.846</text><text x="2944" y="1032">0.413 ± 0.156</text><text x="3113" y="1032">1.428 ± 0.457</text><text x="3283" y="1032">0.152 ± 0.055</text>
<text x="2603" y="1067">1.903 ± 0.346</text><text x="2773" y="1067">8.534 ± 3.702</text><text x="2944" y="1067">0.498 ± 0.164</text><text x="3113" y="1067">1.009 ± 0.580</text><text x="3283" y="1067">0.144 ± 0.019</text>
<text x="2597" y="1102">KL</text><text x="2766" y="1102">KL</text><text x="2936" y="1102">KL</text><text x="3105" y="1102">KL</text><text x="3276" y="1102">MMD</text>
<text x="2597" y="1137">7,500</text><text x="2766" y="1137">10,000</text><text x="2936" y="1137">5,000</text><text x="3105" y="1137">5,000</text><text x="3276" y="1137">2,000</text>
</g>
<g class="r" font-size="20" fill="#000">
<text x="2375" y="962" font-style="italic">SNL + SSS</text>
<text x="2375" y="997" font-style="italic">SNL</text>
<text x="2375" y="1032" font-style="italic">SNPE-C</text>
<text x="2375" y="1067" font-style="italic">SNR</text>
<text x="2375" y="1102">Δ</text>
<text x="2375" y="1137"><tspan font-style="italic">n</tspan>. simulations</text>
</g>
<circle cx="2374" cy="1194" r="7.5" fill="#333d45"/>
<circle cx="2374" cy="1234" r="7.5" fill="#333d45"/>
<g class="s" font-size="28" fill="#333">
<text x="2402" y="1203" textLength="957" lengthAdjust="spacingAndGlyphs">SNL + SSS is much better than SNL which does not use summary statistics;</text>
<text x="2402" y="1244" textLength="958" lengthAdjust="spacingAndGlyphs">SNL + SSS outperforms the end-to-end inference algorithms SNPE-C, SNR.</text>
</g>

<text class="s" x="2363" y="1363" font-size="45" fill="#000" textLength="690" lengthAdjust="spacingAndGlyphs">Why not do end-to-end inference?</text>
<circle cx="2375" cy="1423" r="7.5" fill="#333d45"/>
<circle cx="2375" cy="1523" r="7.5" fill="#333d45"/>
<g class="s" font-size="28" fill="#333">
<text x="2402" y="1432" textLength="957" lengthAdjust="spacingAndGlyphs"><tspan font-style="italic">Posterior targeting</tspan> methods as trained by MLE (e.g. SNPE-A<tspan font-size="17" dy="-10">[11]</tspan><tspan dy="10">, SPNE-B</tspan><tspan font-size="17" dy="-10">[12]</tspan><tspan dy="10">)</tspan></text>
<text x="2446" y="1472" textLength="724" lengthAdjust="spacingAndGlyphs">&gt; issue: can be problematic in sequential learning regime;</text>
<text x="2402" y="1531" textLength="970" lengthAdjust="spacingAndGlyphs"><tspan font-style="italic">Ratio estimation</tspan> methods based on contrastive learning (SNPE-C<tspan font-size="17" dy="-10">[13]</tspan><tspan dy="10">, SNR</tspan><tspan font-size="17" dy="-10">[14]</tspan><tspan dy="10">)</tspan></text>
<text x="2446" y="1571" textLength="897" lengthAdjust="spacingAndGlyphs">&gt; issue: can be unreliable if the distributions to compare too different<tspan font-size="17" dy="-10">[15]</tspan><tspan dy="10">.</tspan></text>
</g>

<text class="s" x="2366" y="1695" font-size="28" fill="#222" textLength="144" lengthAdjust="spacingAndGlyphs">References</text>
<g class="s" font-size="20" fill="#111">
<text x="2371" y="1738" textLength="699" lengthAdjust="spacingAndGlyphs">[1] Monte Carlo methods of inference for implicit statistical models, JRSS B 1984</text>
<text x="2371" y="1763" textLength="545" lengthAdjust="spacingAndGlyphs">[2] Markov chain Monte Carlo without likelihoods. PNAS, 2003</text>
<text x="2371" y="1789" textLength="581" lengthAdjust="spacingAndGlyphs">[3] Adaptive Approximate Bayesian Computation, Biometrika 2009</text>
<text x="2371" y="1815" textLength="387" lengthAdjust="spacingAndGlyphs">[4] Sequential Neural Likelihood, AISTATS 19</text>
<text x="2371" y="1840" textLength="853" lengthAdjust="spacingAndGlyphs">[5] Learning deep representations by mutual information estimation and maximization, ICLR 2019</text>
<text x="2371" y="1866" textLength="766" lengthAdjust="spacingAndGlyphs">[6] Partial distance correlation with methods for dissimilarities, Annals of Statistics 2014</text>
<text x="2371" y="1892" textLength="491" lengthAdjust="spacingAndGlyphs">[7] Constructing summary statistics for ABC, JRSS B 2009</text>
<text x="2371" y="1917" textLength="745" lengthAdjust="spacingAndGlyphs">[8] Mining gold from implicit models to improve likelihood-free inference, PNAS 2020</text>
<text x="2371" y="1943" textLength="775" lengthAdjust="spacingAndGlyphs">[9]. Constructing summary statistics for approximate Bayesian computation, JRSS-B 2009</text>
<text x="2371" y="1969" textLength="651" lengthAdjust="spacingAndGlyphs">[10]. Neural approximate sufficient statistics for implicit models, ICLR 2021</text>
<text x="2371" y="1995" textLength="945" lengthAdjust="spacingAndGlyphs">[11]. Fast ε-free Inference of Simulation Models with Bayesian Conditional Density Estimation, NeurIPS 2016</text>
<text x="2371" y="2020" textLength="795" lengthAdjust="spacingAndGlyphs">[12]. Flexible statistical inference for mechanistic models of neural dynamics, NeurIPS 2017</text>
<text x="2371" y="2046" textLength="720" lengthAdjust="spacingAndGlyphs">[13]. Automatic Posterior Transformation for Likelihood-free Inference, ICML 2020</text>
<text x="2371" y="2072" textLength="751" lengthAdjust="spacingAndGlyphs">[14]. Likelihood-free MCMC with Amortized Approximate Ratio Estimators, ICML 2020</text>
<text x="2371" y="2098" textLength="501" lengthAdjust="spacingAndGlyphs">[15]. Telescoping Density-Ratio Estimation, NeurIPS 2020.</text>
</g>

<!-- QR code -->
<rect x="3210" y="2068" width="210" height="210" fill="url(#qr)"/>
<g fill="#fff"><rect x="3210" y="2068" width="56" height="56"/><rect x="3364" y="2068" width="56" height="56"/><rect x="3210" y="2222" width="56" height="56"/></g>
<g>
<rect x="3210" y="2068" width="49" height="49" fill="#000"/><rect x="3217" y="2075" width="35" height="35" fill="#fff"/><rect x="3224" y="2082" width="21" height="21" fill="#000"/>
<rect x="3371" y="2068" width="49" height="49" fill="#000"/><rect x="3378" y="2075" width="35" height="35" fill="#fff"/><rect x="3385" y="2082" width="21" height="21" fill="#000"/>
<rect x="3210" y="2229" width="49" height="49" fill="#000"/><rect x="3217" y="2236" width="35" height="35" fill="#fff"/><rect x="3224" y="2243" width="21" height="21" fill="#000"/>
</g>
</svg>
</body></html>
